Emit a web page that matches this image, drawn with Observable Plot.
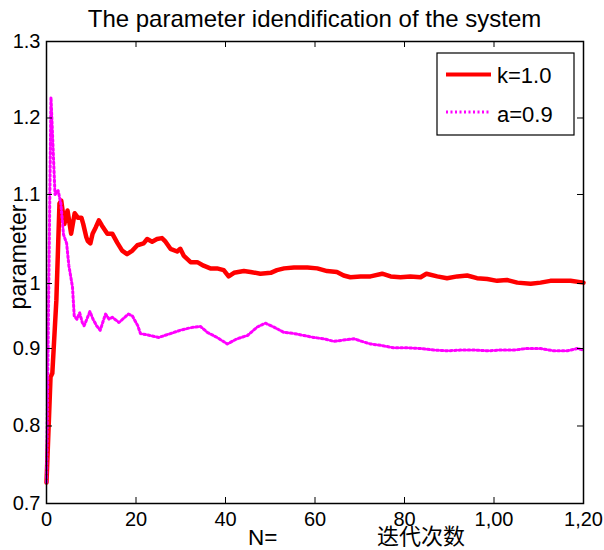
<!DOCTYPE html>
<html>
<head>
<meta charset="utf-8">
<script src="https://cdn.jsdelivr.net/npm/d3@7"></script>
<script src="https://cdn.jsdelivr.net/npm/@observablehq/plot@0.6"></script>
<style>
  html, body { margin: 0; padding: 0; background: #fff; overflow: hidden; }
</style>
</head>
<body>
<div id="chart"></div>
<script>
// ---- Data ----
const titleText = "The parameter idendification of the system";
const yAxisLabel = "parameter";
const xAxisLabelA = "N=";
const xAxisLabelB = "迭代次数";
const seriesNames = ["k=1.0", "a=0.9"];

const xTicks = [0, 20, 40, 60, 80, 100, 120];
const xTickLabels = ["0", "20", "40", "60", "80", "1,00", "1,20"];
const yTicks = [0.7, 0.8, 0.9, 1.0, 1.1, 1.2, 1.3];
const yTickLabels = ["0.7", "0.8", "0.9", "1", "1.1", "1.2", "1.3"];

const kX = [0, 0.9, 1.3, 2.2, 2.9, 3.3, 4.0, 4.7, 5.5, 6.3, 7.0, 7.8, 8.2, 8.9, 9.2, 9.8,
  10.3, 11.0, 11.7, 12.4, 13.6, 14.7, 15.8, 16.9, 18.0, 19.2, 20.3, 21.7, 22.5, 23.6, 24.7,
  25.8, 26.6, 27.7, 29.2, 29.9, 30.7, 32.2, 33.7, 35.1, 36.6, 38.1, 39.6, 40.7, 41.9, 44.1,
  45.6, 47.8, 50.1, 51.5, 53.1, 55.3, 58.3, 60.5, 62.7, 64.9, 66.4, 67.9, 70.2, 72.4, 75.0,
  76.9, 79.1, 81.3, 83.6, 84.9, 87.3, 89.5, 91.8, 94.0, 96.2, 98.5, 100.7, 102.9, 105.2, 108.2,
  110.4, 112.6, 114.9, 117.1, 120];
const kY = [0.727, 0.863, 0.868, 0.974, 1.090, 1.093, 1.067, 1.082, 1.056, 1.079, 1.074, 1.074, 1.067, 1.052, 1.048, 1.045,
  1.056, 1.063, 1.071, 1.065, 1.056, 1.056, 1.046, 1.037, 1.033, 1.037, 1.043, 1.045, 1.050, 1.047, 1.050,
  1.051, 1.047, 1.039, 1.036, 1.039, 1.031, 1.024, 1.024, 1.020, 1.017, 1.017, 1.015, 1.008, 1.012, 1.014,
  1.013, 1.011, 1.012, 1.015, 1.017, 1.018, 1.018, 1.017, 1.014, 1.013, 1.009, 1.007, 1.008, 1.008, 1.011,
  1.008, 1.007, 1.008, 1.007, 1.011, 1.008, 1.006, 1.008, 1.009, 1.006, 1.005, 1.003, 1.004, 1.001, 0.9995,
  1.001, 1.003, 1.003, 1.003, 1.001];

const aX = [0, 1.0, 1.9, 2.6, 3.2, 3.8, 4.5, 5.0, 5.8, 6.2, 6.8, 7.4, 8.0, 8.4, 9.0, 9.7, 10.4,
  11.2, 12.0, 12.8, 13.2, 14.0, 14.7, 16.2, 17.0, 18.3, 19.2, 20.4, 21.0, 23.2, 25.1, 27.7,
  29.9, 32.2, 34.4, 35.9, 38.1, 40.4, 42.6, 44.9, 47.1, 48.9, 50.8, 53.0, 55.3, 57.5, 59.7,
  61.9, 64.2, 66.4, 68.7, 70.9, 72.4, 74.6, 77.6, 80.6, 83.6, 86.5, 89.5, 92.5, 95.5, 98.5,
  101.5, 104.4, 107.4, 110.4, 113.4, 116.4, 118.6, 120];
const aY = [0.727, 1.227, 1.100, 1.105, 1.090, 1.055, 1.045, 1.020, 0.995, 0.950, 0.945, 0.955, 0.940, 0.935, 0.945, 0.957, 0.945,
  0.935, 0.928, 0.945, 0.953, 0.945, 0.948, 0.940, 0.945, 0.953, 0.950, 0.935, 0.923, 0.920, 0.917, 0.923,
  0.928, 0.932, 0.934, 0.925, 0.917, 0.907, 0.915, 0.920, 0.933, 0.939, 0.933, 0.925, 0.923, 0.920, 0.917,
  0.915, 0.911, 0.913, 0.915, 0.910, 0.907, 0.905, 0.901, 0.901, 0.900, 0.898, 0.897, 0.898, 0.898, 0.897,
  0.898, 0.898, 0.900, 0.900, 0.897, 0.897, 0.900, 0.898];

// ---- Layout ----
const W = 604, H = 550;
const mL = 46, mR = 21, mT = 41, mB = 47;
const innerW = W - mL - mR, innerH = H - mT - mB;
const tickLen = 6;
// The reference's y axis is uneven: its "1" tick sits lower than an even spacing would put it.
// Reproduce that with a piecewise warp (value -> position on an even 0.7..1.3 axis).
const yWarp = d3.scaleLinear()
  .domain([0.7, 0.9, 1.0, 1.1, 1.3])
  .range([0.7, 0.9013, 0.9857, 1.1013, 1.3]);
const yTickPos = yTicks.map(v => yWarp(v));

const kData = kX.map((x, i) => ({x, y: kY[i]}));
const aData = aX.map((x, i) => ({x, y: aY[i]}));

const font = "'Liberation Sans', Arial, Helvetica, sans-serif";

const plot = Plot.plot({
  width: W, height: H,
  marginLeft: mL, marginRight: mR, marginTop: mT, marginBottom: mB,
  style: {fontFamily: font, background: "white", color: "black"},
  x: {domain: [0, 120]},
  y: {domain: [0.7, 1.3]},
  marks: [
    Plot.line(kData, {x: "x", y: d => yWarp(d.y), stroke: "#ff0000", strokeWidth: 4.5, strokeLinejoin: "round"}),
    Plot.line(aData, {x: "x", y: d => yWarp(d.y), stroke: "#ff00ff", strokeWidth: 3, strokeDasharray: "2,2.5"}),
    // inward ticks on all four sides
    Plot.ruleX(xTicks, {x: d => d, insetTop: innerH - tickLen, stroke: "black", strokeWidth: 1}),
    Plot.ruleX(xTicks, {x: d => d, insetBottom: innerH - tickLen, stroke: "black", strokeWidth: 1}),
    Plot.ruleY(yTickPos, {y: d => d, insetRight: innerW - tickLen, stroke: "black", strokeWidth: 1}),
    Plot.ruleY(yTickPos, {y: d => d, insetLeft: innerW - tickLen, stroke: "black", strokeWidth: 1}),
    Plot.frame({stroke: "black", strokeWidth: 1.5}),
    Plot.axisX({ticks: xTicks, tickSize: 0, tickPadding: 8, fontSize: 20, label: null,
      tickFormat: d => xTickLabels[xTicks.indexOf(d)]}),
    Plot.axisY({ticks: yTickPos, tickSize: 0, tickPadding: 6, fontSize: 20, label: null,
      tickFormat: d => yTickLabels[yTickPos.indexOf(d)]})
  ]
});

const svg = d3.select(plot);
svg.append("text")
  .attr("x", mL + innerW / 2).attr("y", 27)
  .attr("text-anchor", "middle").attr("font-size", 24).attr("fill", "black")
  .text(titleText);
svg.append("text")
  .attr("transform", `translate(26,257) rotate(-90)`)
  .attr("text-anchor", "middle").attr("font-size", 23).attr("fill", "black")
  .text(yAxisLabel);
svg.append("text")
  .attr("x", 248).attr("y", 545).attr("text-anchor", "start")
  .attr("font-size", 22.5).attr("fill", "black")
  .text(xAxisLabelA);
svg.append("text")
  .attr("x", 377).attr("y", 544).attr("text-anchor", "start")
  .attr("font-size", 22).attr("fill", "black")
  .attr("font-family", "'Noto Sans CJK SC', sans-serif")
  .text(xAxisLabelB);

// legend
const lg = svg.append("g");
lg.append("rect").attr("x", 437).attr("y", 53).attr("width", 137).attr("height", 82)
  .attr("fill", "white").attr("stroke", "black").attr("stroke-width", 1.2);
lg.append("line").attr("x1", 446).attr("x2", 491).attr("y1", 74.5).attr("y2", 74.5)
  .attr("stroke", "#ff0000").attr("stroke-width", 4);
lg.append("line").attr("x1", 446).attr("x2", 491).attr("y1", 112).attr("y2", 112)
  .attr("stroke", "#ff00ff").attr("stroke-width", 3).attr("stroke-dasharray", "2,2.5");
lg.append("text").attr("x", 497).attr("y", 83).attr("text-anchor", "start")
  .attr("font-size", 22).attr("fill", "black").text(seriesNames[0]);
lg.append("text").attr("x", 497).attr("y", 122).attr("text-anchor", "start")
  .attr("font-size", 22).attr("fill", "black").text(seriesNames[1]);

document.getElementById("chart").appendChild(plot);
</script>
</body>
</html>
